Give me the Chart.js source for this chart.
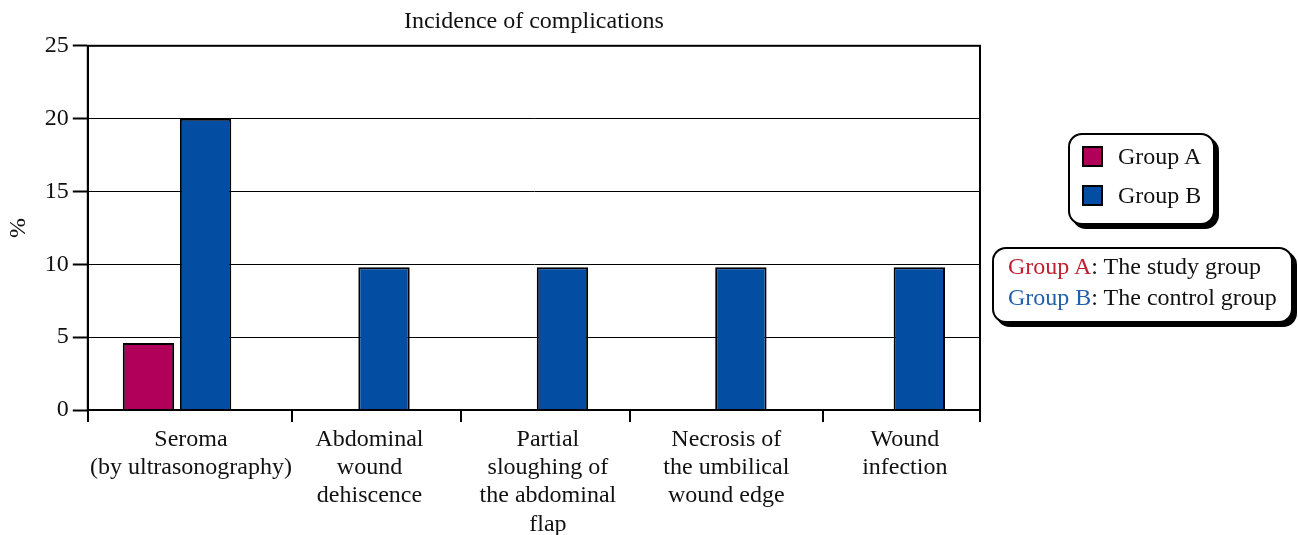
<!DOCTYPE html>
<html>
<head>
<meta charset="utf-8">
<script src="https://cdn.jsdelivr.net/npm/chart.js@4.4.0/dist/chart.umd.min.js"></script>
<style>
  body { margin: 0; background: #fff; font-family: "Liberation Serif", serif; }
  #wrap { position: relative; width: 1298px; height: 535px; }
  .box {
    position: absolute; background: #fff; border: 2px solid #000; border-radius: 14px;
    box-shadow: 4px 4px 0 #000; font-size: 24px; line-height: 28px; color: #111;
  }
  #legend1 { left: 1068px; top: 133px; width: 143px; height: 88px; }
  #legend1 .row { position: absolute; left: 12px; display: flex; align-items: center; }
  #legend1 .sw { width: 17px; height: 17px; border: 2px solid #000; margin-right: 15px; }
  #legend2 { left: 992px; top: 247px; width: 297px; height: 72px; }
  #legend2 div { position: absolute; left: 14px; white-space: nowrap; }
</style>
</head>
<body>
<div id="wrap">
  <canvas id="chart" width="1298" height="535"></canvas>
  <div class="box" id="legend1"></div>
  <div class="box" id="legend2"></div>
</div>
<script>
// Incidence of complications (%)
var categories = [
    ['Seroma', '(by ultrasonography)'],
    ['Abdominal', 'wound', 'dehiscence'],
    ['Partial', 'sloughing of', 'the abdominal', 'flap'],
    ['Necrosis of', 'the umbilical', 'wound edge'],
    ['Wound', 'infection']
];
var groupA = [4.6, 0, 0, 0, 0];
var groupB = [20, 9.8, 9.8, 9.8, 9.8];
var yTicks = [0, 5, 10, 15, 20, 25];

var colorA = '#b0005a';
var colorB = '#034ea2';

// odd-spaced tick marks under the x axis, in category units
var xTickMarks = [-0.5, 0.645, 1.59, 2.54, 3.62, 4.5];

// legends (html)
var l1 = document.getElementById('legend1');
[['Group A', colorA, 7], ['Group B', colorB, 46]].forEach(function (g) {
    var r = document.createElement('div');
    r.className = 'row';
    r.style.top = g[2] + 'px';
    r.innerHTML = '<span class="sw" style="background:' + g[1] + '"></span>' + g[0];
    l1.appendChild(r);
});
var l2 = document.getElementById('legend2');
[['Group A', '#c0202e', 'The study group', 3], ['Group B', '#1f5fab', 'The control group', 34]].forEach(function (g) {
    var d = document.createElement('div');
    d.style.top = g[3] + 'px';
    d.innerHTML = '<span style="color:' + g[1] + '">' + g[0] + '</span>: ' + g[2];
    l2.appendChild(d);
});

// box around the plot + tick marks under the x axis
var frame = {
    id: 'frame',
    afterDraw: function (c) {
        var a = c.chartArea, ctx = c.ctx, xs = c.scales.x;
        ctx.save();
        ctx.strokeStyle = '#000';
        ctx.lineWidth = 2;
        ctx.strokeRect(a.left, a.top, a.right - a.left, a.bottom - a.top);
        ctx.beginPath();
        xTickMarks.forEach(function (v) {
            var px = Math.round(xs.getPixelForValue(v));
            ctx.moveTo(px, a.bottom);
            ctx.lineTo(px, a.bottom + 12);
        });
        ctx.stroke();
        ctx.restore();
    }
};

Chart.defaults.font.family = '"Liberation Serif", serif';
Chart.defaults.font.size = 24;
Chart.defaults.color = '#111';

var ctx = document.getElementById('chart').getContext('2d');
var chart = new Chart(ctx, {
    type: 'bar',
    data: {
        labels: categories,
        datasets: [{
            label: 'Group A',
            data: groupA,
            backgroundColor: colorA,
            borderColor: '#000',
            borderWidth: 2
        }, {
            label: 'Group B',
            data: groupB,
            backgroundColor: colorB,
            borderColor: '#000',
            borderWidth: 2
        }]
    },
    options: {
        responsive: false,
        animation: false,
        layout: { padding: { right: 318, bottom: 0, top: 0 } },
        barPercentage: 0.9,
        categoryPercentage: 0.64,
        plugins: {
            legend: { display: false },
            tooltip: { enabled: false }
        },
        scales: {
            x: {
                offset: true,
                grid: { display: false, drawTicks: false },
                border: { display: true, color: '#000', width: 2 },
                ticks: { color: '#111', labelOffset: 14, padding: 16, maxRotation: 0, autoSkip: false, font: { size: 24, lineHeight: 1.17 } },
                afterFit: function (s) { s.height = 125; }
            },
            xTop: {
                type: 'category',
                position: 'top',
                offset: true,
                grid: { display: false, drawTicks: false },
                border: { display: false },
                ticks: { display: false },
                title: {
                    display: true,
                    text: 'Incidence of complications',
                    color: '#111',
                    font: { size: 24, lineHeight: 1.2 },
                    padding: { top: 7, bottom: 10 }
                }
            },
            y: {
                min: 0,
                max: 25,
                afterBuildTicks: function (s) {
                    s.ticks = yTicks.map(function (v) { return { value: v }; });
                },
                border: { display: true, color: '#000', width: 2 },
                grid: { color: '#000', lineWidth: 1, tickLength: 15, tickWidth: 2, tickColor: '#000' },
                ticks: { color: '#111', padding: 4, font: { size: 24 } },
                title: { display: true, text: '%', color: '#111', font: { size: 24 }, padding: { bottom: 8 } }
            }
        }
    },
    plugins: [frame]
});
</script>
</body>
</html>
